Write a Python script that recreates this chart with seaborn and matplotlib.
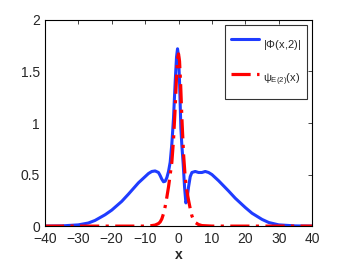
import numpy as np
import pandas as pd
import matplotlib
matplotlib.use("Agg")
import matplotlib.pyplot as plt
import seaborn as sns

# |Phi(x,2)| curve
phi_x = [-40, -35, -30, -27, -25, -22, -20, -17, -15, -12, -10, -9, -8, -7, -6, -5.5, -5, -4.5, -4,
         -3.5, -3, -2.5, -2, -1.5, -1, -0.6, -0.3, 0, 0.3, 0.7, 1, 1.4, 1.8, 2.2, 2.5, 3, 3.5, 4, 5,
         6, 7, 8, 9, 10, 12, 15, 17, 20, 22, 25, 27, 30, 35, 40]
phi_y = [0, 0.002, 0.012, 0.03, 0.055, 0.11, 0.155, 0.24, 0.31, 0.42, 0.48, 0.51, 0.53, 0.535, 0.52,
         0.49, 0.455, 0.43, 0.435, 0.47, 0.53, 0.62, 0.8, 1.05, 1.4, 1.64, 1.72, 1.65, 1.4, 0.95,
         0.78, 0.6, 0.38, 0.225, 0.25, 0.38, 0.48, 0.52, 0.53, 0.52, 0.52, 0.53, 0.52, 0.5, 0.44,
         0.34, 0.27, 0.18, 0.125, 0.065, 0.035, 0.012, 0.002, 0]

# psi_E(2)(x) curve
psi_x = [-40, -10, -8, -7, -6, -5.5, -5, -4.5, -4, -3.5, -3, -2.5, -2, -1.5, -1, -0.6, -0.3, 0,
         0.3, 0.6, 1, 1.5, 2, 2.5, 3, 3.5, 4, 4.5, 5, 6, 7, 10, 40]
psi_y = [0, 0, 0.005, 0.01, 0.025, 0.04, 0.07, 0.12, 0.19, 0.28, 0.38, 0.5, 0.62, 0.84, 1.15,
         1.45, 1.62, 1.67, 1.6, 1.4, 1.05, 0.7, 0.47, 0.34, 0.25, 0.17, 0.1, 0.06, 0.035, 0.015,
         0.005, 0, 0]

labels = [r"|$\Phi$(x,2)|", r"$\psi_{E(2)}$(x)"]
xticks = [-40, -30, -20, -10, 0, 10, 20, 30, 40]
yticks = [0, 0.5, 1, 1.5, 2]
ytick_labels = ["0", "0.5", "1", "1.5", "2"]

sns.set_style("white")
plt.rcParams["font.family"] = ["Liberation Sans", "DejaVu Sans"]
plt.rcParams["mathtext.fontset"] = "custom"
plt.rcParams["mathtext.rm"] = "Liberation Sans"
plt.rcParams["mathtext.it"] = "Liberation Sans"

df1 = pd.DataFrame({"x": phi_x, "y": phi_y})
df2 = pd.DataFrame({"x": psi_x, "y": psi_y})

fig = plt.figure(figsize=(3.43, 2.62), dpi=100)
ax = fig.add_axes([0.131, 0.137, 0.779, 0.787])

sns.lineplot(data=df1, x="x", y="y", ax=ax, color="#1f3cff", linewidth=2.2, label=labels[0])
sns.lineplot(data=df2, x="x", y="y", ax=ax, color="#ff0000", linewidth=2.3, label=labels[1])
ax.lines[1].set_dashes([6, 2, 1, 2])

ax.set_xlim(-40, 40)
ax.set_ylim(0, 2)
ax.set_xticks(xticks)
ax.set_xticklabels([str(t).replace("-", "\u2212") for t in xticks])
ax.set_yticks(yticks)
ax.set_yticklabels(ytick_labels)
ax.tick_params(direction="in", top=True, right=True, length=3, width=0.6, labelsize=10)
ax.tick_params(axis="x", pad=4)
ax.tick_params(axis="y", pad=3.5)
ax.set_xlabel("x", fontsize=10, fontweight="bold", labelpad=1.5)
ax.set_ylabel("")
for s in ax.spines.values():
    s.set_linewidth(0.8)
    s.set_color("black")

leg = ax.legend(loc="upper right", bbox_to_anchor=(0.981, 0.976), fontsize=8,
                labelspacing=0.65, handlelength=2.5, handleheight=3.4, handletextpad=0.4,
                borderpad=0.55, frameon=True, fancybox=False, edgecolor="black",
                borderaxespad=0)
leg.get_frame().set_linewidth(0.8)

fig.savefig("out.png", dpi=100)
